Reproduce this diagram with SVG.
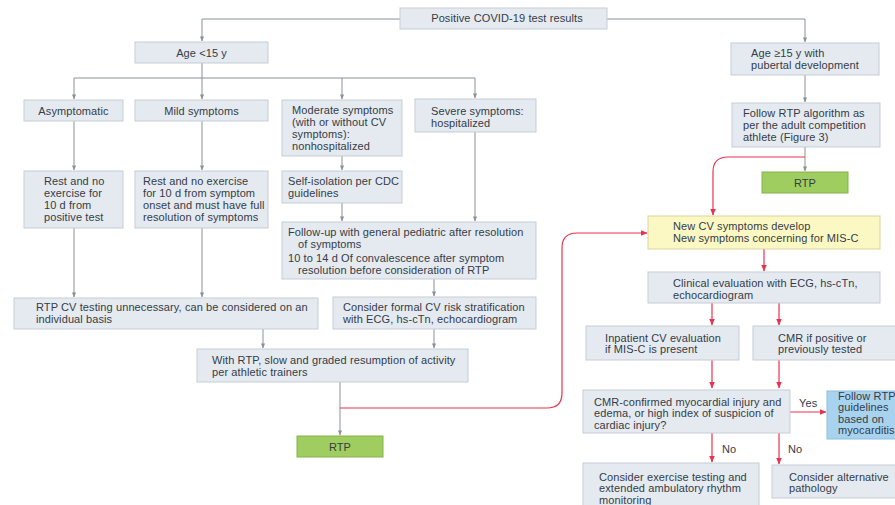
<svg xmlns="http://www.w3.org/2000/svg" width="895" height="505" viewBox="0 0 895 505">
<defs>
<marker id="ag" viewBox="0 0 6 6" refX="5.5" refY="3" markerWidth="5" markerHeight="5" orient="auto" markerUnits="userSpaceOnUse"><path d="M0,0.5 L6,3 L0,5.5 Z" fill="#8a9098"/></marker>
<marker id="ar" viewBox="0 0 6 6" refX="5.5" refY="3" markerWidth="7" markerHeight="7" orient="auto" markerUnits="userSpaceOnUse"><path d="M0,0.5 L6,3 L0,5.5 Z" fill="#e8334f"/></marker>
<style>
.b{fill:#e4eaef;stroke:#c5cdd5;stroke-width:1}
.g{fill:#9fcd5f;stroke:#84b347;stroke-width:1}
.y{fill:#fcf8c3;stroke:#d9d49e;stroke-width:1}
.bl{fill:#a8d3ee;stroke:#8cbfe0;stroke-width:1}
text{font-family:"Liberation Sans",Arial,sans-serif;font-size:11px;letter-spacing:0.1px;fill:#353c48}
.c{text-anchor:middle}
.lg{fill:none;stroke:#8a9098;stroke-width:1}
.lr{fill:none;stroke:#e8334f;stroke-width:1.2}
</style>
</defs>
<rect width="895" height="505" fill="#ffffff"/>

<g id="connectors">
<path class="lg" d="M400,19 H202 V41" marker-end="url(#ag)"/>
<path class="lg" d="M607,19 H805 V42" marker-end="url(#ag)"/>
<path class="lg" d="M202,63 V78"/>
<path class="lg" d="M74,78 H475"/>
<path class="lg" d="M74,78 V99" marker-end="url(#ag)"/>
<path class="lg" d="M202,78 V99" marker-end="url(#ag)"/>
<path class="lg" d="M342,78 V99" marker-end="url(#ag)"/>
<path class="lg" d="M475,78 V98" marker-end="url(#ag)"/>
<path class="lg" d="M74,121 V170" marker-end="url(#ag)"/>
<path class="lg" d="M202,121 V170" marker-end="url(#ag)"/>
<path class="lg" d="M342,156 V170" marker-end="url(#ag)"/>
<path class="lg" d="M342,203 V221" marker-end="url(#ag)"/>
<path class="lg" d="M475,132 V221" marker-end="url(#ag)"/>
<path class="lg" d="M74,228 V297" marker-end="url(#ag)"/>
<path class="lg" d="M202,228 V297" marker-end="url(#ag)"/>
<path class="lg" d="M434,279 V296" marker-end="url(#ag)"/>
<path class="lg" d="M263,329 V348" marker-end="url(#ag)"/>
<path class="lg" d="M434,329 V348" marker-end="url(#ag)"/>
<path class="lg" d="M340,382 V435" marker-end="url(#ag)"/>
<path class="lg" d="M805,75 V102" marker-end="url(#ag)"/>
<path class="lg" d="M805,147 V171" marker-end="url(#ag)"/>
<path class="lr" d="M805,157 H728 Q713,157 713,172 V215" marker-end="url(#ar)"/>
<path class="lr" d="M340,408 H547 Q562,408 562,393 V248 Q562,233 577,233 H647" marker-end="url(#ar)"/>
<path class="lr" d="M764,249 V271" marker-end="url(#ar)"/>
<path class="lr" d="M712,303 V325" marker-end="url(#ar)"/>
<path class="lr" d="M779,303 V325" marker-end="url(#ar)"/>
<path class="lr" d="M712,360 V388" marker-end="url(#ar)"/>
<path class="lr" d="M779,360 V388" marker-end="url(#ar)"/>
<path class="lr" d="M790,412 H826" marker-end="url(#ar)"/>
<path class="lr" d="M712,433 V462" marker-end="url(#ar)"/>
<path class="lr" d="M779,433 V464" marker-end="url(#ar)"/>
<text x="799" y="407">Yes</text>
<text x="722" y="453">No</text>
<text x="788" y="453">No</text>
</g>

<g id="n-positive"><rect class="b" x="400" y="8" width="207" height="21"/><text class="c" x="507" y="22">Positive COVID-19 test results</text></g>
<g id="n-age-lt15"><rect class="b" x="135" y="42" width="133" height="21"/><text class="c" x="201.5" y="56.5">Age &lt;15 y</text></g>
<g id="n-age-ge15"><rect class="b" x="731" y="43" width="148" height="32"/><text x="751" y="57">Age ≥15 y with</text><text x="751" y="69">pubertal development</text></g>
<g id="n-follow-adult"><rect class="b" x="732" y="103" width="148" height="44"/><text x="743" y="117">Follow RTP algorithm as</text><text x="743" y="129">per the adult competition</text><text x="743" y="141">athlete (Figure 3)</text></g>
<g id="n-rtp-right"><rect class="g" x="762" y="172" width="86" height="21"/><text class="c" x="805" y="186.5">RTP</text></g>

<g id="n-asym"><rect class="b" x="24" y="100" width="99" height="21"/><text class="c" x="73.5" y="114.5">Asymptomatic</text></g>
<g id="n-mild"><rect class="b" x="135" y="100" width="133" height="21"/><text class="c" x="201.5" y="114.5">Mild symptoms</text></g>
<g id="n-moderate"><rect class="b" x="282" y="100" width="120" height="56"/><text x="292" y="114">Moderate symptoms</text><text x="292" y="126">(with or without CV</text><text x="292" y="138">symptoms):</text><text x="292" y="150">nonhospitalized</text></g>
<g id="n-severe"><rect class="b" x="415" y="99" width="121" height="33"/><text x="431" y="115">Severe symptoms:</text><text x="431" y="127">hospitalized</text></g>

<g id="n-rest1"><rect class="b" x="24" y="171" width="99" height="57"/><text x="44" y="185">Rest and no</text><text x="44" y="197">exercise for</text><text x="44" y="208.5">10 d from</text><text x="44" y="220.5">positive test</text></g>
<g id="n-rest2"><rect class="b" x="135" y="171" width="133" height="57"/><text x="143" y="185">Rest and no exercise</text><text x="143" y="197">for 10 d from symptom</text><text x="143" y="208.5">onset and must have full</text><text x="143" y="220.5">resolution of symptoms</text></g>
<g id="n-selfiso"><rect class="b" x="282" y="171" width="120" height="32"/><text x="288" y="185">Self-isolation per CDC</text><text x="288" y="197">guidelines</text></g>
<g id="n-followup"><rect class="b" x="282" y="222" width="254" height="57"/><text x="288" y="236">Follow-up with general pediatric after resolution</text><text x="298" y="247.5">of symptoms</text><text x="288" y="262">10 to 14 d Of convalescence after symptom</text><text x="298" y="273.5">resolution before consideration of RTP</text></g>
<g id="n-rtpcv"><rect class="b" x="14" y="298" width="304" height="31"/><text x="36" y="311">RTP CV testing unnecessary, can be considered on an</text><text x="36" y="323">individual basis</text></g>
<g id="n-formal"><rect class="b" x="333" y="297" width="203" height="32"/><text x="343" y="311">Consider formal CV risk stratification</text><text x="343" y="323">with ECG, hs-cTn, echocardiogram</text></g>
<g id="n-withrtp"><rect class="b" x="197" y="349" width="271" height="33"/><text x="212" y="364">With RTP, slow and graded resumption of activity</text><text x="212" y="376">per athletic trainers</text></g>
<g id="n-rtp-left"><rect class="g" x="297" y="436" width="86" height="21"/><text class="c" x="340" y="450.5">RTP</text></g>

<g id="n-newcv"><rect class="y" x="648" y="216" width="232" height="33"/><text x="673" y="230">New CV symptoms develop</text><text x="673" y="242">New symptoms concerning for MIS-C</text></g>
<g id="n-clinical"><rect class="b" x="648" y="272" width="232" height="31"/><text x="673" y="287">Clinical evaluation with ECG, hs-cTn,</text><text x="673" y="298.5">echocardiogram</text></g>
<g id="n-inpatient"><rect class="b" x="586" y="326" width="153" height="34"/><text x="605" y="342">Inpatient CV evaluation</text><text x="605" y="353">if MIS-C is present</text></g>
<g id="n-cmr"><rect class="b" x="753" y="326" width="145" height="34"/><text x="778" y="342">CMR if positive or</text><text x="778" y="353">previously tested</text></g>
<g id="n-cmrconf"><rect class="b" x="583" y="390" width="207" height="43"/><text x="594" y="406">CMR-confirmed myocardial injury and</text><text x="594" y="417">edema, or high index of suspicion of</text><text x="594" y="428.5">cardiac injury?</text></g>
<g id="n-followmyo"><rect class="bl" x="827" y="391" width="72" height="48"/><text x="838" y="399.5">Follow RTP</text><text x="838" y="411">guidelines</text><text x="838" y="422.5">based on</text><text x="838" y="434">myocarditis</text></g>
<g id="n-exercise"><rect class="b" x="583" y="463" width="176" height="46"/><text x="599" y="481">Consider exercise testing and</text><text x="599" y="492">extended ambulatory rhythm</text><text x="599" y="503.5">monitoring</text></g>
<g id="n-alt"><rect class="b" x="772" y="465" width="126" height="33"/><text x="789" y="481">Consider alternative</text><text x="789" y="492">pathology</text></g>
</svg>
